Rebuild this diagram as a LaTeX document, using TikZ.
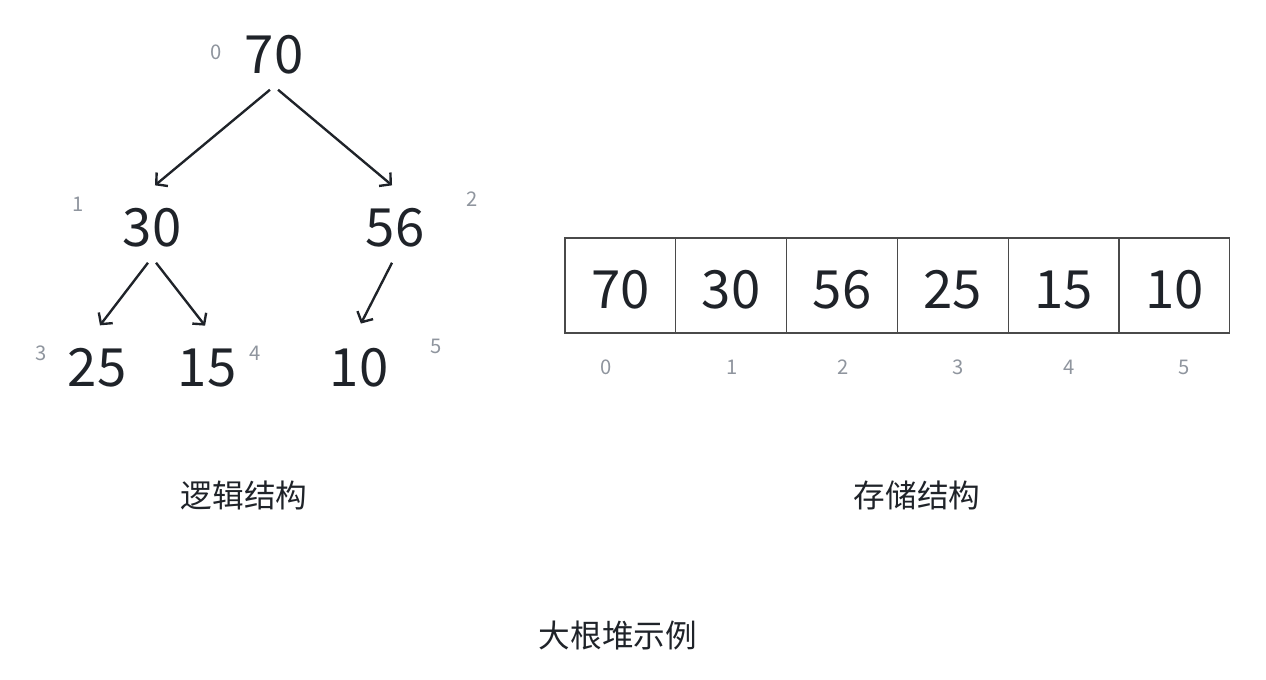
\documentclass[tikz,border=0pt]{standalone}
\usepackage{fontspec}
\setmainfont{Noto Sans CJK SC}
\usetikzlibrary{arrows.meta}
\definecolor{ink}{HTML}{1F2329}
\definecolor{idxgray}{HTML}{8F959E}
\definecolor{cellline}{HTML}{4A4A4A}
\tikzstyle{key} = [
    inner sep=0pt,
    text=ink,
    font=\fontsize{30}{30}\selectfont
]
\tikzstyle{index} = [
    inner sep=0pt,
    text=idxgray,
    font=\fontsize{11.5}{11.5}\selectfont
]
\tikzstyle{cell} = [
    rectangle,
    minimum width=2.216cm,
    minimum height=1.9cm,
    inner sep=0pt,
    text height=26pt,
    text depth=0pt,
    draw=cellline,
    line width=0.6pt,
    text=ink,
    font=\fontsize{30}{30}\selectfont
]
\tikzstyle{caption} = [
    inner sep=0pt,
    text=ink,
    font=\fontsize{18}{18}\selectfont
]
\tikzstyle{arrow} = [line width=1.35pt, draw=ink, -{Straight Barb[length=4.5pt,width=10pt]}]

\begin{document}
\begin{tikzpicture}[x=0.02cm, y=-0.02cm]

\useasboundingbox (0,0) rectangle (1266,679);

\node (n0) [key] at (274,55) {70};
\node (n1) [key] at (152,228) {30};
\node (n2) [key] at (395,228) {56};
\node (n3) [key] at (97,368) {25};
\node (n4) [key] at (207,368) {15};
\node (n5) [key] at (359,368) {10};

\node (i0) [index] at (216,52) {0};
\node (i1) [index] at (78,204) {1};
\node (i2) [index] at (472,199) {2};
\node (i3) [index] at (41,353) {3};
\node (i4) [index] at (255,353) {4};
\node (i5) [index] at (436,346) {5};

\draw [arrow] ([xshift=-2.3pt,yshift=-8.5pt]n0.south) -- ([xshift=1.7pt,yshift=13pt]n1.north);
\draw [arrow] ([xshift=2.3pt,yshift=-8.5pt]n0.south) -- ([xshift=-1.7pt,yshift=13pt]n2.north);
\draw [arrow] ([xshift=-2.3pt,yshift=-8.5pt]n1.south) -- ([xshift=1.7pt,yshift=13pt]n3.north);
\draw [arrow] ([xshift=2.3pt,yshift=-8.5pt]n1.south) -- ([xshift=-1.1pt,yshift=13pt]n4.north);
\draw [arrow] ([xshift=-1.7pt,yshift=-8.5pt]n2.south) -- ([xshift=1.1pt,yshift=14pt]n5.north);

\foreach \v [count=\i from 0] in {70,30,56,25,15,10}
    \node (c\i) [cell] at ({620.4+110.8*\i},285.5) {\v};

\foreach \x [count=\i from 0] in {606,732,843,958,1069,1184}
    \node (p\i) [index] at (\x,367) {\i};

\node (logic) [caption] at (244,495) {逻辑结构};
\node (store) [caption] at (917,495) {存储结构};
\node (title) [caption] at (618,635) {大根堆示例};

\end{tikzpicture}
\end{document}
